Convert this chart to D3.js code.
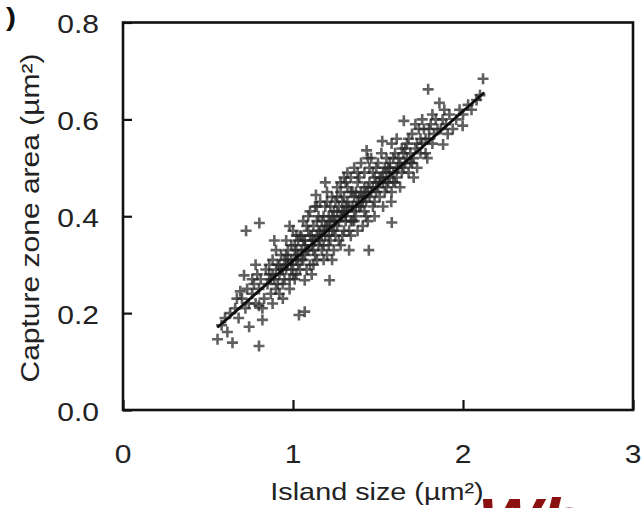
<!DOCTYPE html>
<html>
<head>
<meta charset="utf-8">
<script src="https://cdn.jsdelivr.net/npm/d3@7/dist/d3.min.js"></script>
<style>
  html, body { margin: 0; padding: 0; background: #fff; }
  svg { display: block; }
  text { font-family: "Liberation Sans", Arial, sans-serif; }
</style>
</head>
<body>
<svg id="chart" width="641" height="508"></svg>
<script>
// Island size (µm²) of each measured island
const islandSize = [
  0.556, 0.614, 0.644, 0.60, 0.63, 0.58,
  0.66, 0.68, 0.70, 0.72, 0.742, 0.712, 0.67, 0.69, 0.73, 0.74, 0.724,
  0.76, 0.77, 0.78, 0.79, 0.80, 0.800, 0.82, 0.802, 0.81, 0.83, 0.84, 0.78, 0.76, 0.82, 0.85, 0.80,
  0.86, 0.87, 0.88, 0.89, 0.90, 0.91, 0.92, 0.93, 0.94, 0.86, 0.88, 0.90, 0.92, 0.87, 0.93, 0.95, 0.89, 0.91, 0.94,
  0.96, 0.97, 0.98, 0.99, 1.00, 1.01, 1.02, 1.03, 1.04, 0.96, 0.98, 1.00, 1.02, 1.04, 0.97, 0.99, 1.01, 1.03, 1.035, 1.05, 0.96, 1.00, 0.98, 1.02,
  1.069, 1.069, 1.06, 1.07, 1.08, 1.09, 1.10, 1.11, 1.12, 1.13, 1.14, 1.06, 1.08, 1.10, 1.12, 1.14, 1.07, 1.09, 1.11, 1.13, 1.135, 1.15, 1.06, 1.10, 1.12, 1.08, 1.14,
  1.16, 1.17, 1.18, 1.19, 1.20, 1.21, 1.22, 1.23, 1.24, 1.215, 1.16, 1.18, 1.20, 1.22, 1.24, 1.17, 1.19, 1.21, 1.23, 1.25, 1.16, 1.18, 1.20, 1.22, 1.24, 1.19, 1.21, 1.23,
  1.26, 1.27, 1.28, 1.29, 1.30, 1.31, 1.32, 1.33, 1.34, 1.26, 1.28, 1.30, 1.32, 1.34, 1.27, 1.29, 1.31, 1.33, 1.35, 1.26, 1.28, 1.30, 1.32, 1.34, 1.29, 1.31,
  1.36, 1.37, 1.38, 1.39, 1.40, 1.41, 1.42, 1.43, 1.44, 1.433, 1.446, 1.36, 1.38, 1.40, 1.42, 1.44, 1.37, 1.39, 1.41, 1.43, 1.45, 1.36, 1.38, 1.40, 1.42, 1.44,
  1.46, 1.47, 1.48, 1.49, 1.50, 1.51, 1.52, 1.53, 1.54, 1.525, 1.46, 1.48, 1.50, 1.52, 1.54, 1.47, 1.49, 1.51, 1.53, 1.55,
  1.56, 1.57, 1.58, 1.581, 1.578, 1.59, 1.60, 1.61, 1.62, 1.63, 1.64, 1.652, 1.56, 1.58, 1.60, 1.62, 1.64, 1.57, 1.61,
  1.66, 1.67, 1.68, 1.69, 1.70, 1.71, 1.72, 1.73, 1.74, 1.68, 1.70, 1.72, 1.75, 1.66, 1.71,
  1.76, 1.77, 1.78, 1.795, 1.80, 1.81, 1.82, 1.83, 1.84, 1.79, 1.76, 1.82, 1.85,
  1.861, 1.883, 1.87, 1.88, 1.90, 1.92, 1.94, 1.89, 1.91,
  1.96, 1.98, 1.998, 2.00, 2.03, 2.05, 2.08, 2.10, 2.118,
  0.88, 0.90, 0.92, 0.94, 0.95, 0.97, 0.99, 1.01, 1.03, 1.05, 1.05, 1.07, 1.09, 1.11, 1.13, 1.15, 1.15, 1.17, 1.19, 1.21,
  1.23, 1.25, 1.25, 1.27, 1.29, 1.31, 1.33, 1.35, 1.35, 1.37, 1.39, 1.41, 1.43, 1.45, 1.45, 1.47, 1.49, 1.51, 1.53, 1.55,
  1.55, 1.57, 1.59, 1.59, 1.61, 1.63, 1.65, 1.65, 1.67, 1.69, 1.73, 1.75, 1.78, 1.80, 1.12, 1.18, 1.24, 1.30, 1.36, 1.42,
  1.48, 1.02, 0.96, 1.26, 1.32, 1.38, 1.14, 1.20, 1.28, 1.34
];

// Capture zone area (µm²) of the same islands, in the same order
const captureArea = [
  0.146, 0.161, 0.139, 0.19, 0.20, 0.175,
  0.21, 0.19, 0.23, 0.21, 0.172, 0.278, 0.23, 0.245, 0.25, 0.22, 0.370,
  0.24, 0.26, 0.22, 0.28, 0.25, 0.132, 0.186, 0.386, 0.27, 0.23, 0.29, 0.30, 0.27, 0.21, 0.26, 0.215,
  0.28, 0.24, 0.31, 0.27, 0.25, 0.30, 0.28, 0.32, 0.26, 0.30, 0.22, 0.33, 0.24, 0.27, 0.29, 0.31, 0.35, 0.26, 0.23,
  0.29, 0.33, 0.27, 0.31, 0.30, 0.34, 0.28, 0.32, 0.36, 0.35, 0.25, 0.37, 0.31, 0.29, 0.30, 0.34, 0.27, 0.35, 0.196, 0.33, 0.32, 0.28, 0.38, 0.36,
  0.203, 0.268, 0.31, 0.35, 0.33, 0.37, 0.30, 0.34, 0.38, 0.32, 0.36, 0.39, 0.29, 0.41, 0.35, 0.31, 0.32, 0.40, 0.28, 0.42, 0.444, 0.34, 0.35, 0.36, 0.30, 0.38, 0.39,
  0.37, 0.33, 0.40, 0.36, 0.38, 0.34, 0.42, 0.37, 0.39, 0.268, 0.43, 0.31, 0.45, 0.35, 0.33, 0.39, 0.42, 0.40, 0.44, 0.36, 0.35, 0.37, 0.32, 0.39, 0.41, 0.47, 0.36, 0.31,
  0.38, 0.42, 0.40, 0.36, 0.44, 0.39, 0.41, 0.37, 0.45, 0.46, 0.34, 0.48, 0.43, 0.39, 0.35, 0.43, 0.47, 0.33, 0.42, 0.41, 0.45, 0.37, 0.49, 0.36, 0.40, 0.42,
  0.44, 0.40, 0.47, 0.42, 0.45, 0.38, 0.49, 0.43, 0.46, 0.536, 0.330, 0.50, 0.37, 0.51, 0.41, 0.39, 0.45, 0.48, 0.44, 0.40, 0.50, 0.39, 0.43, 0.42, 0.46, 0.52,
  0.45, 0.49, 0.43, 0.47, 0.51, 0.44, 0.48, 0.42, 0.50, 0.555, 0.52, 0.40, 0.46, 0.53, 0.45, 0.42, 0.50, 0.48, 0.47, 0.49,
  0.47, 0.51, 0.45, 0.387, 0.430, 0.49, 0.53, 0.48, 0.52, 0.46, 0.54, 0.597, 0.50, 0.55, 0.47, 0.50, 0.49, 0.48, 0.56,
  0.51, 0.55, 0.49, 0.53, 0.57, 0.52, 0.54, 0.50, 0.58, 0.56, 0.51, 0.59, 0.53, 0.54, 0.48,
  0.55, 0.58, 0.53, 0.662, 0.56, 0.59, 0.55, 0.57, 0.60, 0.52, 0.60, 0.61, 0.58,
  0.634, 0.548, 0.58, 0.60, 0.59, 0.61, 0.58, 0.62, 0.57,
  0.60, 0.62, 0.587, 0.61, 0.63, 0.62, 0.64, 0.65, 0.684,
  0.28, 0.29, 0.30, 0.29, 0.27, 0.31, 0.29, 0.32, 0.30, 0.31, 0.36, 0.34, 0.33, 0.36, 0.35, 0.37, 0.40, 0.36, 0.38, 0.38,
  0.40, 0.39, 0.43, 0.39, 0.41, 0.40, 0.42, 0.39, 0.45, 0.42, 0.44, 0.43, 0.45, 0.44, 0.47, 0.46, 0.45, 0.47, 0.49, 0.46,
  0.52, 0.50, 0.47, 0.52, 0.50, 0.51, 0.50, 0.53, 0.52, 0.51, 0.55, 0.56, 0.56, 0.58, 0.33, 0.34, 0.37, 0.41, 0.41, 0.44,
  0.48, 0.33, 0.30, 0.44, 0.46, 0.49, 0.42, 0.43, 0.47, 0.48
];

// Least-squares line through the cloud, given by its two end points
const fitX = [0.56, 2.12];
const fitY = [0.172, 0.654];

// Axis ticks and labels
const xTicks = [0, 1, 2, 3];
const xTickLabels = ["0", "1", "2", "3"];
const yTicks = [0, 0.2, 0.4, 0.6, 0.8];
const yTickLabels = ["0.0", "0.2", "0.4", "0.6", "0.8"];

const xTitle = "Island size (\u00b5m\u00b2)";
const yTitle = "Capture zone area (\u00b5m\u00b2)";

const svg = d3.select("#chart");

const x = d3.scaleLinear().domain([0, 3]).range([123, 633]);
const y = d3.scaleLinear().domain([0, 0.8]).range([410, 22.5]);

// Text in this figure is set a little wider than normal
const STRETCH = 1.2;

// soft edge for the scatter marks
const defs = svg.append("defs");
defs.append("filter").attr("id", "soft")
  .append("feGaussianBlur").attr("stdDeviation", 0.7);

// Scatter: "+" markers
const pts = islandSize.map((v, i) => [v, captureArea[i]]);
const arm = 5.5;
svg.append("g")
  .attr("filter", "url(#soft)")
  .selectAll("path")
  .data(pts)
  .join("path")
  .attr("d", d => {
    const cx = x(d[0]), cy = y(d[1]);
    return `M${cx - arm},${cy}H${cx + arm}M${cx},${cy - arm}V${cy + arm}`;
  })
  .attr("stroke", "#262626")
  .attr("stroke-opacity", 0.72)
  .attr("stroke-width", 2.6)
  .attr("fill", "none");

// Regression line
svg.append("path")
  .datum(fitX.map((v, i) => [v, fitY[i]]))
  .attr("d", d3.line().x(d => x(d[0])).y(d => y(d[1])))
  .attr("stroke", "#0d0d0d")
  .attr("stroke-width", 2.8)
  .attr("stroke-linecap", "round")
  .attr("fill", "none")
  .attr("filter", "url(#soft)");

// Inward tick marks
svg.append("g")
  .attr("transform", `translate(0,${y(0)})`)
  .call(d3.axisBottom(x).tickValues(xTicks).tickSize(-10).tickFormat(() => ""))
  .call(g => g.select(".domain").remove())
  .call(g => g.selectAll("line").attr("stroke", "#111").attr("stroke-width", 2.2));

svg.append("g")
  .attr("transform", `translate(${x(0)},0)`)
  .call(d3.axisLeft(y).tickValues(yTicks).tickSize(-9).tickFormat(() => ""))
  .call(g => g.select(".domain").remove())
  .call(g => g.selectAll("line").attr("stroke", "#111").attr("stroke-width", 2.2));

// Plot frame
svg.append("rect")
  .attr("x", x(0)).attr("y", y(0.8))
  .attr("width", x(3) - x(0)).attr("height", y(0) - y(0.8))
  .attr("fill", "none")
  .attr("stroke", "#111")
  .attr("stroke-width", 2.6);

// Tick labels
svg.append("g").selectAll("text")
  .data(xTicks)
  .join("text")
  .attr("transform", d => `translate(${x(d)},463) scale(${STRETCH},1)`)
  .attr("text-anchor", "middle")
  .attr("font-size", 25)
  .attr("fill", "#222")
  .text((d, i) => xTickLabels[i]);

svg.append("g").selectAll("text")
  .data(yTicks)
  .join("text")
  .attr("transform", d => `translate(99,${y(d) + 10.5}) scale(${STRETCH},1)`)
  .attr("text-anchor", "end")
  .attr("font-size", 25)
  .attr("fill", "#222")
  .text((d, i) => yTickLabels[i]);

// Axis titles
svg.append("text")
  .attr("transform", `translate(377,500) scale(${STRETCH},1)`)
  .attr("text-anchor", "middle")
  .attr("font-size", 24)
  .attr("fill", "#222")
  .text(xTitle);

svg.append("text")
  .attr("transform", `translate(39,218) rotate(-90) scale(1.2,1)`)
  .attr("text-anchor", "middle")
  .attr("font-size", 25)
  .attr("fill", "#222")
  .text(yTitle);

// Panel letter remnant at the top left
svg.append("text")
  .attr("transform", `translate(6,26) scale(${STRETCH},1)`)
  .attr("font-size", 25)
  .attr("font-weight", "bold")
  .attr("fill", "#111")
  .text(")");

// Large red heading running off the bottom edge
svg.append("text")
  .attr("transform", `translate(478,537) scale(${STRETCH},1)`)
  .attr("font-size", 56)
  .attr("font-weight", "bold")
  .attr("font-style", "italic")
  .attr("fill", "#8b1010")
  .text("Why\u2009C");
</script>
</body>
</html>
